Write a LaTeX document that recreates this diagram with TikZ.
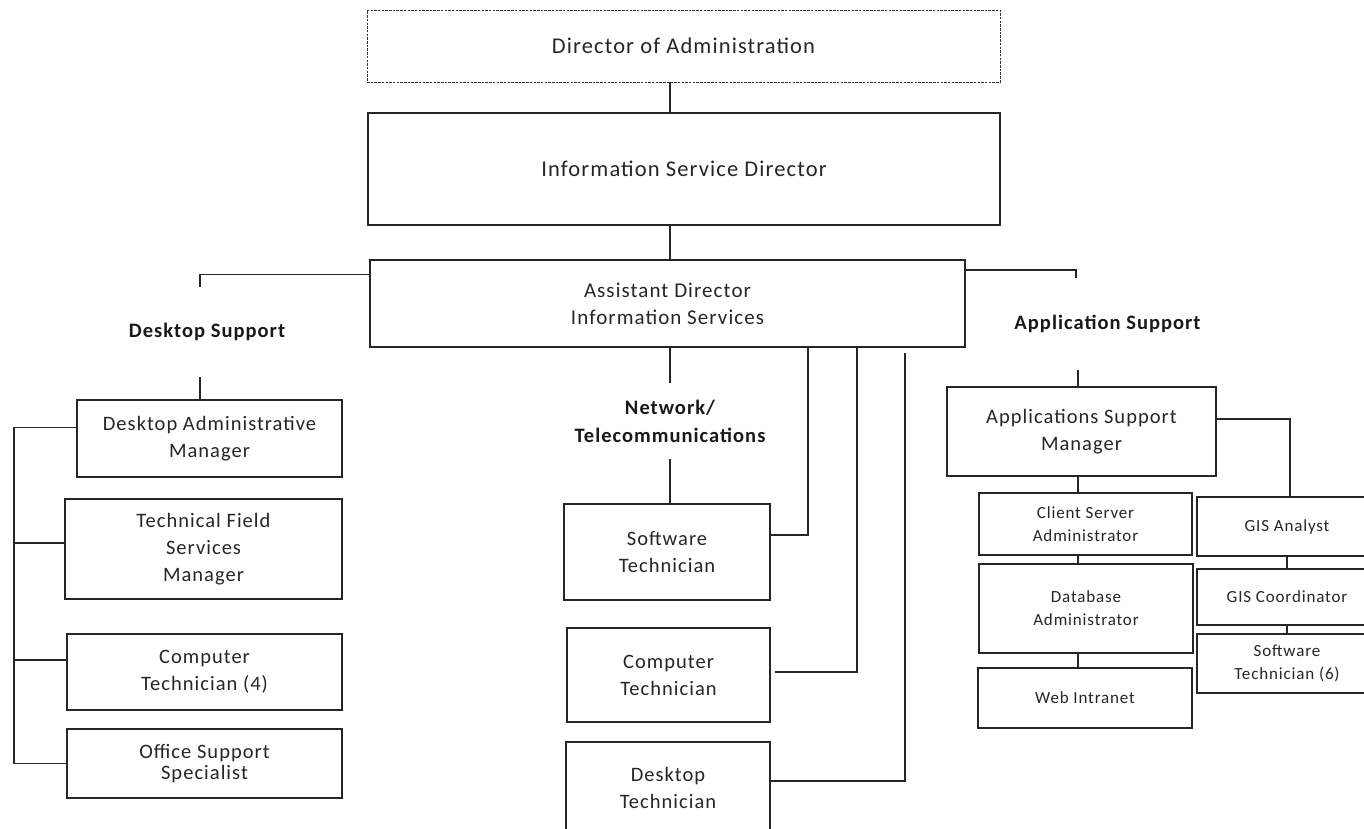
\documentclass[tikz,border=0pt]{standalone}
\usepackage{fontspec}
\setmainfont{Carlito}[LetterSpace=5]
\usepackage{tikz}
\usetikzlibrary{positioning, calc}

\newcommand{\boxtxt}{\fontsize{21}{27}\selectfont}
\newcommand{\bigboxtxt}{\fontsize{22.5}{27}\selectfont}
\newcommand{\colboxtxt}{\fontsize{20.5}{27}\selectfont}
\newcommand{\smalltxt}{\fontsize{17}{23}\selectfont}
\newcommand{\headtxt}{\fontsize{20.5}{28}\selectfont\bfseries}

\begin{document}
\begin{tikzpicture}[
        x=1pt, y=-1pt,
        box/.style={draw=black!85, line width=1.2pt, align=center, inner sep=0pt, outer sep=0pt, text=black!85, font=\colboxtxt},
        topbox/.style={box, font=\boxtxt},
        sbox/.style={box, font=\smalltxt},
        head/.style={align=center, inner sep=0pt, text=black!90, font=\headtxt},
        link/.style={draw=black!85, line width=1.2pt},
    ]
    \useasboundingbox (0,0) rectangle (1364,828);
    \clip (0,0) rectangle (1364,828);
    \fill[white] (0,0) rectangle (1364,828);

    % Top of the chart
    \node[topbox, font=\bigboxtxt, draw=black!80, line width=1pt, dash pattern=on 2.5pt off 1.2pt, minimum width=633, minimum height=72] (dir) at (683.5,46) {Director of Administration};
    \node[topbox, font=\bigboxtxt, minimum width=632, minimum height=112] (isd) at (684,169) {Information Service Director};
    \node[topbox, minimum width=595, minimum height=87] (ad) at (667.5,303.5) {Assistant Director\\Information Services};
    \coordinate (spine) at (670,0);

    % Desktop support
    \node[head, minimum height=90] (dslbl) at (207,332) {Desktop Support};
    \node[box, minimum width=265, minimum height=77] (dam) at (209.5,438.5) {Desktop Administrative\\Manager};
    \node[box, minimum width=277, minimum height=100] (tfs) at (203.5,549) {Technical Field\\Services\\Manager};
    \node[box, minimum width=275, minimum height=76] (ct4) at (204.5,672) {Computer\\Technician (4)};
    \node[box, minimum width=275, minimum height=69] (oss) at (204.5,763.5) {Office Support\\[-6pt]Specialist};
    \coordinate (busL) at (14,0);

    % Network / telecom
    \node[head, minimum height=76] (netlbl) at (670,421) {Network/\\Telecommunications};
    \node[box, minimum width=206, minimum height=96] (swt) at (667,552) {Software\\Technician};
    \node[box, minimum width=203, minimum height=94] (ctm) at (668.5,675) {Computer\\Technician};
    \node[box, minimum width=204, minimum height=92] (dtm) at (668,788) {Desktop\\Technician};
    \coordinate (rs1) at (808,0);
    \coordinate (rs2) at (857,0);
    \coordinate (rs3) at (905,0);

    % Application support
    \node[head, minimum height=91] (applbl) at (1107.5,324) {Application Support};
    \node[box, minimum width=269, minimum height=89] (asm) at (1081.5,431.5) {Applications Support\\Manager};
    \node[sbox, minimum width=213, minimum height=62] (csa) at (1085.5,524) {Client Server\\Administrator};
    \node[sbox, minimum width=214, minimum height=89] (dba) at (1086,608.5) {Database\\Administrator};
    \node[sbox, minimum width=214, minimum height=60] (web) at (1085,698) {Web Intranet};
    \node[sbox, minimum width=180, minimum height=59] (gisa) at (1287,526.5) {GIS Analyst};
    \node[sbox, minimum width=180, minimum height=56] (gisc) at (1287,597) {GIS Coordinator};
    \node[sbox, minimum width=180, minimum height=59] (swt6) at (1287,663.5) {Software\\Technician (6)};
    \coordinate (appx) at (1078,0);

    % Connections
    \draw[link] (dir.south -| spine) -- (isd.north -| spine);
    \draw[link] (isd.south -| spine) -- (ad.north -| spine);
    \draw[link] ([yshift=29pt]ad.west) -| ([xshift=-7pt]dslbl.north);
    \draw[link] ([xshift=-7pt]dslbl.south) -- ([xshift=-7pt]dslbl.south |- dam.north);
    \draw[link] ([yshift=11pt]dam.west) -| (busL |- oss.west) -- (oss.west);
    \draw[link] ([yshift=6pt]tfs.west) -- ([yshift=6pt]tfs.west -| busL);
    \draw[link] ([yshift=12pt]ct4.west) -- ([yshift=12pt]ct4.west -| busL);

    \draw[link] (ad.south -| spine) -- (netlbl.north -| spine);
    \draw[link] (netlbl.south -| spine) -- (swt.north -| spine);
    \draw[link] (ad.south -| rs1) |- ([yshift=17pt]swt.east);
    \draw[link] (ad.south -| rs2) |- ([shift={(5pt,3pt)}]ctm.east);
    \draw[link] ([yshift=-6pt]ad.south -| rs3) |- ([yshift=7pt]dtm.east);

    \draw[link] ([yshift=33.5pt]ad.east) -| ([xshift=-31.5pt]applbl.north);
    \draw[link] (applbl.south -| appx) -- (asm.north -| appx);
    \draw[link] (asm.south -| appx) -- (csa.north -| appx);
    \draw[link] (csa.south -| appx) -- (dba.north -| appx);
    \draw[link] (dba.south -| appx) -- (web.north -| appx);
    \draw[link] ([yshift=12.5pt]asm.east) -| ([xshift=3pt]gisa.north);
    \draw[link] (gisa.south) -- (gisc.north);
    \draw[link] (gisc.south) -- (swt6.north);
\end{tikzpicture}
\end{document}
